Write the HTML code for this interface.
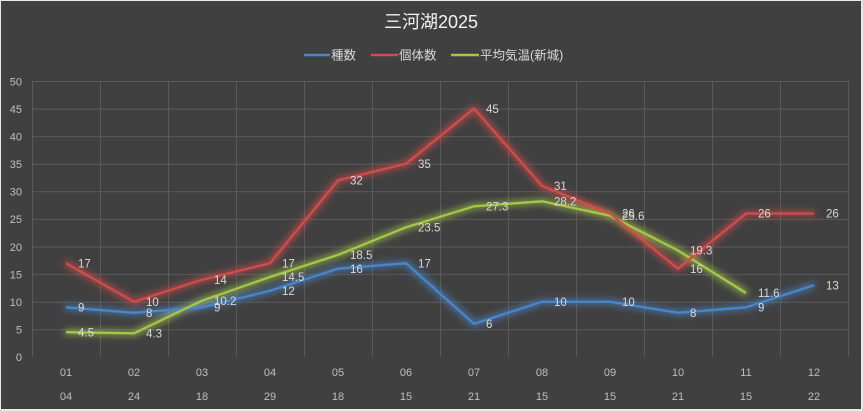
<!DOCTYPE html>
<html><head><meta charset="utf-8">
<style>
html,body{margin:0;padding:0;background:#e8e8e8;}
body{width:863px;height:411px;overflow:hidden;position:relative;}
svg{position:absolute;left:0;top:0;}
text{font-family:"Liberation Sans","Noto Sans CJK JP",sans-serif;}
</style></head>
<body>
<svg width="863" height="411" viewBox="0 0 863 411" xmlns="http://www.w3.org/2000/svg">
<defs>
<filter id="glow" x="-10%" y="-30%" width="120%" height="160%">
<feMorphology in="SourceGraphic" operator="dilate" radius="1.5" result="d"/>
<feGaussianBlur in="d" stdDeviation="3.5" result="b"/>
<feComponentTransfer in="b" result="bb"><feFuncA type="linear" slope="0.7"/></feComponentTransfer>
<feMerge><feMergeNode in="bb"/><feMergeNode in="SourceGraphic"/></feMerge>
</filter>
</defs>
<rect x="1" y="1" width="860" height="408" fill="#404040"/>
<!-- grid -->
<g stroke="#5a5a5a" stroke-width="1">
<line x1="32" y1="81.5" x2="848" y2="81.5"/>
<line x1="32" y1="109.1" x2="848" y2="109.1"/>
<line x1="32" y1="136.6" x2="848" y2="136.6"/>
<line x1="32" y1="164.2" x2="848" y2="164.2"/>
<line x1="32" y1="191.8" x2="848" y2="191.8"/>
<line x1="32" y1="219.4" x2="848" y2="219.4"/>
<line x1="32" y1="247" x2="848" y2="247"/>
<line x1="32" y1="274.6" x2="848" y2="274.6"/>
<line x1="32" y1="302.2" x2="848" y2="302.2"/>
<line x1="32" y1="329.8" x2="848" y2="329.8"/>
<line x1="32.5" y1="81" x2="32.5" y2="357"/>
<line x1="100.5" y1="81" x2="100.5" y2="357"/>
<line x1="168.5" y1="81" x2="168.5" y2="357"/>
<line x1="236.5" y1="81" x2="236.5" y2="357"/>
<line x1="304.5" y1="81" x2="304.5" y2="357"/>
<line x1="372.5" y1="81" x2="372.5" y2="357"/>
<line x1="440.5" y1="81" x2="440.5" y2="357"/>
<line x1="508.5" y1="81" x2="508.5" y2="357"/>
<line x1="576.5" y1="81" x2="576.5" y2="357"/>
<line x1="644.5" y1="81" x2="644.5" y2="357"/>
<line x1="712.5" y1="81" x2="712.5" y2="357"/>
<line x1="780.5" y1="81" x2="780.5" y2="357"/>
<line x1="848.5" y1="81" x2="848.5" y2="357"/>
</g>
<!-- title -->
<text x="431" y="28" text-anchor="middle" font-size="18" fill="#f2f2f2">三河湖2025</text>
<!-- legend -->
<line x1="304" y1="55" x2="330" y2="55" stroke="#4a86c8" stroke-width="2.5"/>
<text x="331" y="59.5" font-size="12.5" fill="#d9d9d9">種数</text>
<line x1="371" y1="55" x2="398" y2="55" stroke="#d24c4c" stroke-width="2.5"/>
<text x="399" y="59.5" font-size="12.5" fill="#d9d9d9">個体数</text>
<line x1="451" y1="55" x2="479" y2="55" stroke="#a4c64a" stroke-width="2.5"/>
<text x="480" y="59.5" font-size="12.5" fill="#d9d9d9">平均気温(新城)</text>
<!-- y axis labels -->
<g font-size="11" fill="#bfbfbf" text-anchor="end">
<text x="22" y="85.5">50</text>
<text x="22" y="113">45</text>
<text x="22" y="140.5">40</text>
<text x="22" y="168">35</text>
<text x="22" y="195.5">30</text>
<text x="22" y="223">25</text>
<text x="22" y="251">20</text>
<text x="22" y="278.5">15</text>
<text x="22" y="306">10</text>
<text x="22" y="333.5">5</text>
<text x="22" y="361">0</text>
</g>
<!-- x axis labels -->
<g font-size="11" fill="#bfbfbf" text-anchor="middle">
<text x="66" y="376">01</text><text x="134" y="376">02</text><text x="202" y="376">03</text><text x="270" y="376">04</text><text x="338" y="376">05</text><text x="406" y="376">06</text><text x="474" y="376">07</text><text x="542" y="376">08</text><text x="610" y="376">09</text><text x="678" y="376">10</text><text x="746" y="376">11</text><text x="814" y="376">12</text>
<text x="66" y="400">04</text><text x="134" y="400">24</text><text x="202" y="400">18</text><text x="270" y="400">29</text><text x="338" y="400">18</text><text x="406" y="400">15</text><text x="474" y="400">21</text><text x="542" y="400">15</text><text x="610" y="400">15</text><text x="678" y="400">21</text><text x="746" y="400">15</text><text x="814" y="400">22</text>
</g>
<!-- series -->
<g fill="none" stroke-width="2.3" stroke-linejoin="round" filter="url(#glow)">
<polyline stroke="#4a86c8" points="66,307.3 134,312.8 202,307.3 270,290.8 338,268.7 406,263.2 474,323.9 542,301.8 610,301.8 678,312.8 746,307.3 814,285.2"/>
<polyline stroke="#a4c64a" points="66,332.2 134,333.3 202,300.7 270,277 338,254.9 406,227.3 474,206.3 542,201.3 610,215.7 678,250.5 746,293"/>
<polyline stroke="#d24c4c" points="66,263.2 134,301.8 202,279.7 270,263.2 338,180.4 406,163.8 474,108.6 542,185.9 610,213.5 678,268.7 746,213.5 814,213.5"/>
</g>
<!-- data labels -->
<g font-size="11.5" fill="#d9d9d9">
<text x="78" y="311.5">9</text><text x="146" y="317">8</text><text x="214" y="311.5">9</text><text x="282" y="295">12</text><text x="350" y="273">16</text><text x="418" y="267.5">17</text><text x="486" y="328">6</text><text x="554" y="306">10</text><text x="622" y="306">10</text><text x="690" y="317">8</text><text x="758" y="311.5">9</text><text x="826" y="289.5">13</text>
<text x="78" y="267.5">17</text><text x="146" y="306">10</text><text x="214" y="284">14</text><text x="282" y="267.5">17</text><text x="350" y="184.5">32</text><text x="418" y="168">35</text><text x="486" y="113">45</text><text x="554" y="190">31</text><text x="622" y="217.5">26</text><text x="690" y="273">16</text><text x="758" y="217.5">26</text><text x="826" y="217.5">26</text>
<text x="78" y="336.5">4.5</text><text x="146" y="337.5">4.3</text><text x="214" y="305">10.2</text><text x="282" y="281">14.5</text><text x="350" y="259">18.5</text><text x="418" y="231.5">23.5</text><text x="486" y="210.5">27.3</text><text x="554" y="205.5">28.2</text><text x="622" y="220">25.6</text><text x="690" y="254.5">19.3</text><text x="758" y="297">11.6</text>
</g>
</svg>
</body></html>
